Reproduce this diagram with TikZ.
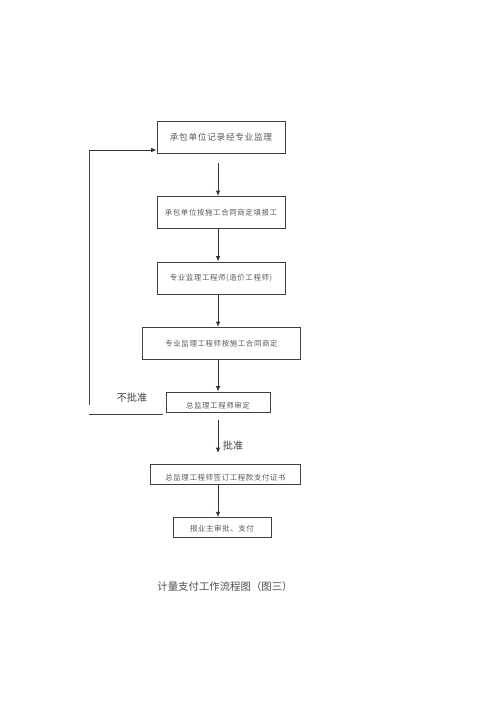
\documentclass[tikz,border=0pt]{standalone}
\usepackage{fontspec}
\setmainfont{Noto Sans CJK SC}
\newfontfamily\boxfont[LetterSpace=8]{Noto Sans CJK SC}
\usetikzlibrary{arrows.meta}

\begin{document}
\begin{tikzpicture}[x=0.75pt,y=-0.75pt,
        box/.style={draw=black!75,line width=0.7pt,inner sep=0pt,text=black!65,font=\boxfont\fontsize{5.6}{8}\selectfont,minimum height=24pt},
        flow/.style={-{Latex[length=4pt,width=3.4pt]},line width=0.75pt,black!80},
        lab/.style={text=black!75,font=\fontsize{7.6}{9}\selectfont}]
        \useasboundingbox(0,0)rectangle(500,707);
        \coordinate(axis)at(218,0);

        \node[box,minimum width=96pt,font=\boxfont\fontsize{6.5}{8}\selectfont](b1)at(221,137){承包单位记录经专业监理};
        \node[box,minimum width=96pt](b2)at(221,212.5){承包单位按施工合同商定填报工};
        \node[box,minimum width=96pt](b3)at(221,278){专业监理工程师(造价工程师)};
        \node[box,minimum width=119pt](b4)at(221.5,343.5){专业监理工程师按施工合同商定};
        \node[box,minimum width=78pt,minimum height=15pt,text height=10pt,text depth=1pt](b5)at(218,402){总监理工程师审定};
        \node[box,minimum width=113pt,minimum height=15pt,text height=10pt,text depth=1pt](b6)at(225.5,474){总监理工程师签订工程款支付证书};
        \node[box,minimum width=73.5pt,minimum height=15pt,text height=7pt,text depth=1pt](b7)at(222,527){报业主审批、支付};

        \draw[flow]([yshift=-7.5pt]b1.south-|axis)--(b2.north-|axis);
        \draw[flow](b2.south-|axis)--(b3.north-|axis);
        \draw[flow](b3.south-|axis)--(b4.north-|axis);
        \draw[flow](b4.south-|axis)--(b5.north-|axis);
        \coordinate(ok)at(218,453);
        \draw[flow]([yshift=-6pt]b5.south-|axis)--(ok);
        \draw[flow](b6.south-|axis)--([yshift=-0.5pt]b7.north-|axis);

        % back to the start
        \coordinate(back)at(89,405);
        \coordinate(turn)at(89,150);
        \draw[line width=0.7pt,black!75](back)--(turn);
        \draw[flow,line width=0.7pt](turn)--(turn-|b1.west);
        \coordinate(low)at(89,414);
        \draw[line width=0.7pt,black!75](low)--([xshift=-2pt]low-|b5.west);

        \node[lab](no)at(132,398){不批准};
        \node[lab](yes)at(233,446){批准};
        \node[lab,text=black!70,font=\fontsize{7.8}{9}\selectfont](cap)at(225,587){计量支付工作流程图（图三）};
\end{tikzpicture}
\end{document}
